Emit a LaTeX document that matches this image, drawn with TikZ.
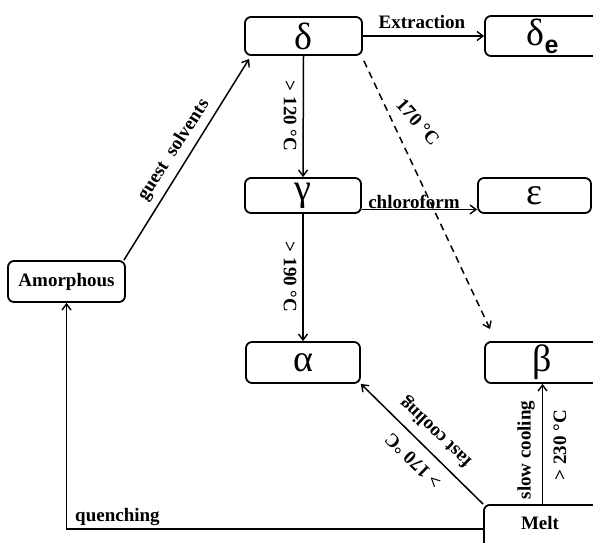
\documentclass[tikz,border=0pt]{standalone}
\usepackage{fontspec}
\setmainfont{Liberation Serif}
\newfontfamily\subsans{Liberation Sans}
\usetikzlibrary{arrows.meta,calc}
\begin{document}
\begin{tikzpicture}[x=1pt,y=-1pt,
  box/.style={draw, line width=1.8pt, rounded corners=6pt, inner sep=0pt},
  arr/.style={line width=1.5pt, -{Straight Barb[length=6pt,width=9pt,line width=1.4pt]}},
  lbl/.style={font=\fontsize{19}{21}\selectfont\bfseries, inner sep=1pt},
  gk/.style={font=\fontsize{38}{40}\selectfont}]
\clip (0,0) rectangle (593,542);
\useasboundingbox (0,0) rectangle (593,542);
% boxes
\node[box, gk, minimum width=117pt, minimum height=38pt] (d) at (303.5,36) {δ};
\node[box, minimum width=115pt, minimum height=40pt] (de) at (542.5,36) {{\fontsize{38}{40}\selectfont δ}\raisebox{-8pt}{\subsans\fontsize{25}{25}\selectfont\bfseries e}};
\node[box, gk, minimum width=116pt, minimum height=35pt] (g) at (303,195.5) {γ};
\node[box, gk, minimum width=113pt, minimum height=35pt] (e) at (534.5,195.5) {ε};
\node[box, gk, minimum width=114pt, minimum height=41pt] (a) at (303,362.5) {α};
\node[box, gk, minimum width=115pt, minimum height=41pt] (b) at (542.5,362.5) {β};
\node[box, lbl, inner sep=0pt, minimum width=117pt, minimum height=41pt] (am) at (66.5,281.5) {Amorphous};
\node[box, anchor=north west, minimum width=130pt, minimum height=48pt] (m) at (483,504) {};
\node[lbl] (mt) at (540,523) {Melt};
\coordinate (dend) at (490,329);
% connectors
\draw[arr] (d.east) -- (de.west);
\draw[arr] (d.south) -- (g.north);
\draw[arr] (g.south) -- (a.north);
\draw[arr] ([yshift=-14pt]g.east) -- ([yshift=-14pt]e.west);
\draw[arr, dash pattern=on 7pt off 5pt] ([xshift=1pt,yshift=-5pt]d.south east) -- (dend);
\draw[arr] ([xshift=-2pt]am.north east) -- ([xshift=5pt,yshift=-3pt]d.south west);
\draw[arr] (m.north west) -- (a.south east);
\draw[arr] (m.north -| b.south) -- (b.south);
\draw[arr] (m.west) -| (am.south);
% labels
\node[lbl, anchor=base] (lx) at (422,28) {Extraction};
\node[lbl, rotate=-90] (l120) at (290,116) {> 120 °C};
\node[lbl, rotate=-90] (l190) at (290,277) {> 190 °C};
\node[lbl, anchor=base] (lch) at (414,208) {chloroform};
\node[lbl, rotate=-48] (l170) at (418,122) {170 °C};
\node[lbl, rotate=57] (lgs) at (174,150) {guest\ \ solvents};
\node[lbl, rotate=136] (lfc) at (436,432) {fast cooling};
\node[lbl, rotate=136] (l170b) at (413,461) {> 170 °C};
\node[lbl, rotate=90] (lsc) at (526,450) {slow cooling};
\node[lbl, rotate=90] (l230) at (560,445) {> 230 °C};
\node[lbl, anchor=base west] (lq) at (74,521) {quenching};
\end{tikzpicture}
\end{document}
